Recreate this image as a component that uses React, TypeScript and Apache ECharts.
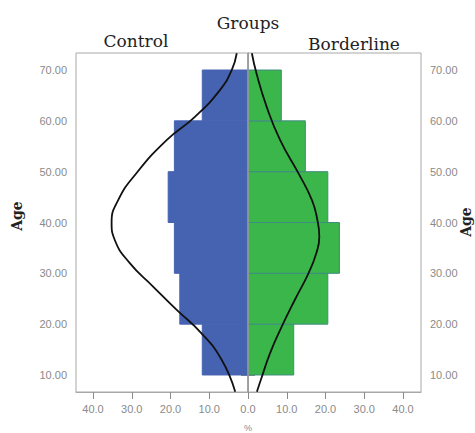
import React, { useEffect, useRef } from "react";
import * as echarts from "echarts";

const ageBinStarts = [10, 20, 30, 40, 50, 60];
const binWidth = 10;
const controlPct = [11.8, 17.6, 19.0, 20.6, 19.0, 11.8];
const borderlinePct = [11.8, 20.6, 23.6, 20.6, 14.8, 8.6];

const controlCurveAge = [6.7, 13.0, 18.2, 22.8, 27.4, 32.0, 36.6, 40.0, 44.4, 49.7, 56.2, 60.8, 66.1, 70.0, 73.3];
const controlCurvePct = [3.3, 6.8, 12.0, 18.4, 24.5, 30.5, 34.4, 35.2, 33.5, 28.8, 21.0, 13.7, 7.2, 4.2, 2.9];
const borderlineCurveAge = [6.7, 9.0, 14.3, 19.5, 24.8, 30.0, 33.9, 37.2, 40.5, 44.4, 49.7, 56.2, 62.8, 69.3, 73.3];
const borderlineCurvePct = [2.3, 3.3, 5.7, 8.7, 12.1, 15.6, 17.6, 18.4, 17.9, 16.5, 13.0, 8.3, 4.8, 2.2, 1.0];

const ageTicks = [10, 20, 30, 40, 50, 60, 70];
const pctTicks = [0, 10, 20, 30, 40];
const pctTicksRightLabels = [10, 20, 30, 40];

const AGE_MIN = 6.65;
const AGE_MAX = 73.35;
const PX_PER_PCT = 3.875;

export default function App() {
  const ref = useRef<HTMLDivElement>(null);

  useEffect(() => {
    if (!ref.current) return;
    const chart = echarts.init(ref.current, undefined, { renderer: "svg" });

    const gridTop = 53;
    const gridHeight = 339;
    const leftGridLeft = 76;
    const leftGridWidth = 172;
    const rightGridLeft = 248;
    const rightGridWidth = 173;

    const axisGray = "#a8a8a8";
    const labelGray = "#8a8a8a";

    const binData = (vals: number[]) =>
      ageBinStarts.map((s, i) => [s, s + binWidth, vals[i]]);

    const makeRender = (fill: string, stroke: string) => (params: any, api: any) => {
      const lo = api.value(0);
      const hi = api.value(1);
      const v = api.value(2);
      const p0 = api.coord([0, lo]);
      const p1 = api.coord([v, hi]);
      return {
        type: "rect",
        shape: {
          x: Math.min(p0[0], p1[0]),
          y: Math.min(p0[1], p1[1]),
          width: Math.abs(p1[0] - p0[0]),
          height: Math.abs(p1[1] - p0[1]),
        },
        style: { fill, stroke, lineWidth: 1 },
      };
    };

    const yAxisCommon = (gridIndex: number, position: "left" | "right") => ({
      type: "value",
      gridIndex,
      position,
      min: AGE_MIN,
      max: AGE_MAX,
      axisLine: { show: true, lineStyle: { color: axisGray, width: 1 } },
      axisTick: { show: true, customValues: ageTicks, length: 7, lineStyle: { color: "#8a8a8a" } },
      axisLabel: {
        customValues: ageTicks,
        formatter: (v: number) => Number(v).toFixed(2),
        color: labelGray,
        fontSize: 11,
        fontFamily: "Liberation Sans",
        margin: 9,
      },
      splitLine: { show: false },
    });

    const xAxisCommon = (gridIndex: number, max: number, inverse: boolean, labels: number[]) => ({
      type: "value",
      gridIndex,
      min: 0,
      max,
      inverse,
      axisLine: { show: true, lineStyle: { color: axisGray, width: 1 } },
      axisTick: { show: true, customValues: pctTicks, length: 7, lineStyle: { color: "#8a8a8a" } },
      axisLabel: {
        customValues: labels,
        formatter: (v: number) => Number(v).toFixed(1),
        color: labelGray,
        fontSize: 11,
        fontFamily: "Liberation Sans",
        margin: 11,
      },
      splitLine: { show: false },
    });

    const titleFont = "DejaVu Serif";

    chart.setOption({
      animation: false,
      backgroundColor: "#ffffff",
      grid: [
        {
          left: leftGridLeft,
          top: gridTop,
          width: leftGridWidth,
          height: gridHeight,
          show: true,
          borderColor: axisGray,
          borderWidth: 1,
          backgroundColor: "#ffffff",
        },
        {
          left: rightGridLeft,
          top: gridTop,
          width: rightGridWidth,
          height: gridHeight,
          show: true,
          borderColor: axisGray,
          borderWidth: 1,
          backgroundColor: "#ffffff",
        },
      ],
      xAxis: [
        xAxisCommon(0, leftGridWidth / PX_PER_PCT, true, pctTicks),
        xAxisCommon(1, rightGridWidth / PX_PER_PCT, false, pctTicksRightLabels),
      ],
      yAxis: [yAxisCommon(0, "left"), yAxisCommon(1, "right")],
      series: [
        {
          type: "custom",
          name: "Control",
          xAxisIndex: 0,
          yAxisIndex: 0,
          renderItem: makeRender("#4663b2", "#4663b2"),
          encode: { x: [2], y: [0, 1] },
          data: binData(controlPct),
          z: 2,
        },
        {
          type: "custom",
          name: "Borderline",
          xAxisIndex: 1,
          yAxisIndex: 1,
          renderItem: makeRender("#3bb64b", "#3f8c80"),
          encode: { x: [2], y: [0, 1] },
          data: binData(borderlinePct),
          z: 2,
        },
        {
          type: "line",
          name: "Control normal",
          xAxisIndex: 0,
          yAxisIndex: 0,
          smooth: true,
          showSymbol: false,
          symbol: "none",
          lineStyle: { color: "#111111", width: 1.8 },
          data: controlCurveAge.map((a, i) => [controlCurvePct[i], a]),
          z: 4,
        },
        {
          type: "line",
          name: "Borderline normal",
          xAxisIndex: 1,
          yAxisIndex: 1,
          smooth: true,
          showSymbol: false,
          symbol: "none",
          lineStyle: { color: "#111111", width: 1.8 },
          data: borderlineCurveAge.map((a, i) => [borderlineCurvePct[i], a]),
          markLine: {
            silent: true,
            symbol: "none",
            label: { show: false },
            lineStyle: { color: "#9a9a9a", type: "solid", width: 1.5 },
            data: [{ xAxis: 0 }],
            z: 3,
          },
          z: 4,
        },
      ],
      graphic: [
        {
          type: "text",
          x: 248,
          y: 23,
          style: {
            text: "Groups",
            font: `17px "${titleFont}"`,
            fill: "#222222",
            textAlign: "center",
            textVerticalAlign: "middle",
          },
        },
        {
          type: "text",
          x: 136,
          y: 41,
          style: {
            text: "Control",
            font: `17px "${titleFont}"`,
            fill: "#222222",
            textAlign: "center",
            textVerticalAlign: "middle",
          },
        },
        {
          type: "text",
          x: 354,
          y: 44,
          style: {
            text: "Borderline",
            font: `17px "${titleFont}"`,
            fill: "#222222",
            textAlign: "center",
            textVerticalAlign: "middle",
          },
        },
        {
          type: "text",
          x: 17,
          y: 216,
          rotation: Math.PI / 2,
          style: {
            text: "Age",
            font: `bold 14px "${titleFont}"`,
            fill: "#222222",
            textAlign: "center",
            textVerticalAlign: "middle",
          },
        },
        {
          type: "text",
          x: 466,
          y: 222,
          rotation: Math.PI / 2,
          style: {
            text: "Age",
            font: `bold 14px "${titleFont}"`,
            fill: "#222222",
            textAlign: "center",
            textVerticalAlign: "middle",
          },
        },
        {
          type: "text",
          x: 248,
          y: 428,
          style: {
            text: "%",
            font: `9px "Liberation Sans"`,
            fill: labelGray,
            textAlign: "center",
            textVerticalAlign: "middle",
          },
        },
      ],
    });

    return () => {
      chart.dispose();
    };
  }, []);

  return (
    <div
      ref={ref}
      style={{ position: "fixed", left: 0, top: 0, width: 475, height: 433 }}
    />
  );
}
